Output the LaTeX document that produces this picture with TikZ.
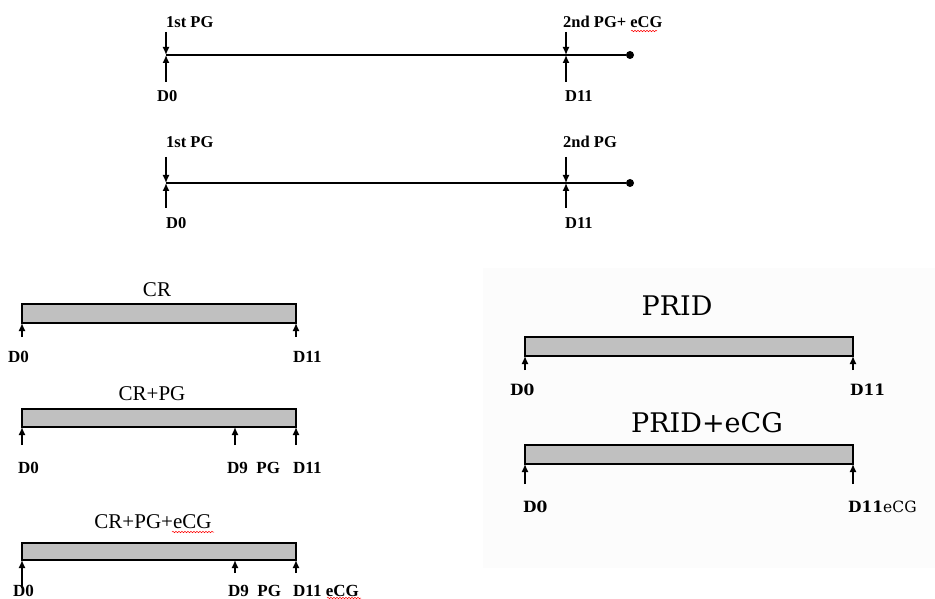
\documentclass[tikz,border=0pt]{standalone}
\usepackage{fontspec}
\setmainfont{Liberation Serif}
\newfontfamily\pridfont{DejaVu Serif}
\usetikzlibrary{arrows.meta}
\usetikzlibrary{decorations.pathmorphing}
\usepackage{xcolor}
\definecolor{bargray}{RGB}{192,192,192}
\definecolor{paneshade}{RGB}{252,252,252}

\tikzset{
  tickarrow/.style={line width=1.4pt,-{Latex[length=8pt,width=7pt]}},
  cbar/.style={draw,line width=1.4pt,fill=bargray,inner sep=0pt,outer sep=0pt},
  toplbl/.style={anchor=base west,inner sep=0pt,font=\bfseries\fontsize{16.5}{18}\selectfont},
  crlbl/.style={anchor=base,inner sep=0pt,font=\fontsize{21}{23}\selectfont},
  daylbl/.style={anchor=base west,inner sep=0pt,font=\bfseries\fontsize{17}{19}\selectfont},
  pridlbl/.style={anchor=base,inner sep=0pt,font=\pridfont\fontsize{27}{30}\selectfont},
  pdaylbl/.style={anchor=base west,inner sep=0pt,font=\pridfont\fontsize{15.5}{17}\selectfont},
  spell/.style={red,line width=0.5pt,decorate,decoration={snake,amplitude=0.7pt,segment length=3pt}}
}

\begin{document}
\begin{tikzpicture}[x=1pt,y=-1pt]
    \useasboundingbox (0,0) rectangle (935,599);
    \fill[paneshade] (483,268) rectangle (935,568);

    % first timeline
    \coordinate (t1a) at (166,55);
    \node[circle,fill,inner sep=0pt,minimum size=8pt] (t1end) at (630,55) {};
    \draw[line width=1.4pt] (t1a) -- (t1end);
    \coordinate (t1d0up) at (166,32);
    \coordinate (t1d0dn) at (166,82);
    \coordinate (t1d11up) at (566,32);
    \coordinate (t1d11dn) at (566,82);
    \draw[tickarrow] (t1d0up) -- (t1a);
    \draw[tickarrow] (t1d0dn) -- (t1a);
    \draw[tickarrow] (t1d11up) -- (t1d11up |- t1a);
    \draw[tickarrow] (t1d11dn) -- (t1d11dn |- t1a);
    \node[toplbl] (t1pg1) at (166,28) {1st PG};
    \node[toplbl] (t1pg2) at (563,28) {2nd PG+ eCG};
    \node[toplbl] (t1d0) at (157,102) {D0};
    \node[toplbl] (t1d11) at (565,102) {D11};
    \draw[spell] (631,31) -- (657,31);

    % second timeline
    \coordinate (t2a) at (166,183);
    \node[circle,fill,inner sep=0pt,minimum size=8pt] (t2end) at (630,183) {};
    \draw[line width=1.4pt] (t2a) -- (t2end);
    \coordinate (t2d0up) at (166,157);
    \coordinate (t2d0dn) at (166,208);
    \coordinate (t2d11up) at (566,157);
    \coordinate (t2d11dn) at (566,208);
    \draw[tickarrow] (t2d0up) -- (t2a);
    \draw[tickarrow] (t2d0dn) -- (t2a);
    \draw[tickarrow] (t2d11up) -- (t2d11up |- t2a);
    \draw[tickarrow] (t2d11dn) -- (t2d11dn |- t2a);
    \node[toplbl] (t2pg1) at (166,148) {1st PG};
    \node[toplbl] (t2pg2) at (563,148) {2nd PG};
    \node[toplbl] (t2d0) at (166,229) {D0};
    \node[toplbl] (t2d11) at (565,229) {D11};

    % CR bars
    \node[cbar,minimum width=274pt,minimum height=19pt] (crbar) at (159,313.5) {};
    \node[crlbl] (crname) at (157,296) {CR};
    \coordinate (cr0) at (22,337);
    \coordinate (cr11) at (296,337);
    \draw[tickarrow] (cr0) -- (cr0 |- crbar.south);
    \draw[tickarrow] (cr11) -- (cr11 |- crbar.south);
    \node[daylbl] (crd0) at (8,362) {D0};
    \node[daylbl] (crd11) at (293,362) {D11};

    \node[cbar,minimum width=274pt,minimum height=18pt] (crpgbar) at (159,418) {};
    \node[crlbl] (crpgname) at (152,400) {CR+PG};
    \coordinate (crpg0) at (22,445);
    \coordinate (crpg9) at (235,445);
    \coordinate (crpg11) at (296,445);
    \draw[tickarrow] (crpg0) -- (crpg0 |- crpgbar.south);
    \draw[tickarrow] (crpg9) -- (crpg9 |- crpgbar.south);
    \draw[tickarrow] (crpg11) -- (crpg11 |- crpgbar.south);
    \node[daylbl] (crpgd0) at (18,473) {D0};
    \node[daylbl] (crpgd9) at (227,473) {D9\ \ PG};
    \node[daylbl] (crpgd11) at (293,473) {D11};

    \node[cbar,minimum width=274pt,minimum height=17pt] (crpgebar) at (159,551.5) {};
    \node[crlbl] (crpgename) at (153,528) {CR+PG+eCG};
    \draw[spell] (172,532) -- (214,532);
    \coordinate (crpge0) at (22,588);
    \coordinate (crpge9) at (235,573);
    \coordinate (crpge11) at (296,573);
    \draw[tickarrow] (crpge0) -- (crpge0 |- crpgebar.south);
    \draw[tickarrow] (crpge9) -- (crpge9 |- crpgebar.south);
    \draw[tickarrow] (crpge11) -- (crpge11 |- crpgebar.south);
    \node[daylbl] (crpged0) at (13,596) {D0};
    \node[daylbl] (crpged9) at (228,596) {D9\ \ PG};
    \node[daylbl] (crpged11) at (293,596) {D11 eCG};
    \draw[spell] (327,598) -- (361,598);

    % PRID bars
    \node[cbar,minimum width=328pt,minimum height=19pt] (pridbar) at (689,346.5) {};
    \node[pridlbl] (pridname) at (677,315) {PRID};
    \coordinate (prid0) at (525,370);
    \coordinate (prid11) at (853,370);
    \draw[tickarrow] (prid0) -- (prid0 |- pridbar.south);
    \draw[tickarrow] (prid11) -- (prid11 |- pridbar.south);
    \node[pdaylbl] (pridd0) at (510,395) {\bfseries D0};
    \node[pdaylbl] (pridd11) at (850,395) {\bfseries D11};

    \node[cbar,minimum width=328pt,minimum height=19pt] (pridebar) at (689,454.5) {};
    \node[pridlbl] (pridename) at (707,432) {PRID+eCG};
    \coordinate (pride0) at (525,484);
    \coordinate (pride11) at (853,484);
    \draw[tickarrow] (pride0) -- (pride0 |- pridebar.south);
    \draw[tickarrow] (pride11) -- (pride11 |- pridebar.south);
    \node[pdaylbl] (prided0) at (523,512) {\bfseries D0};
    \node[pdaylbl] (prided11) at (848,512) {{\bfseries D11}eCG};
\end{tikzpicture}
\end{document}
